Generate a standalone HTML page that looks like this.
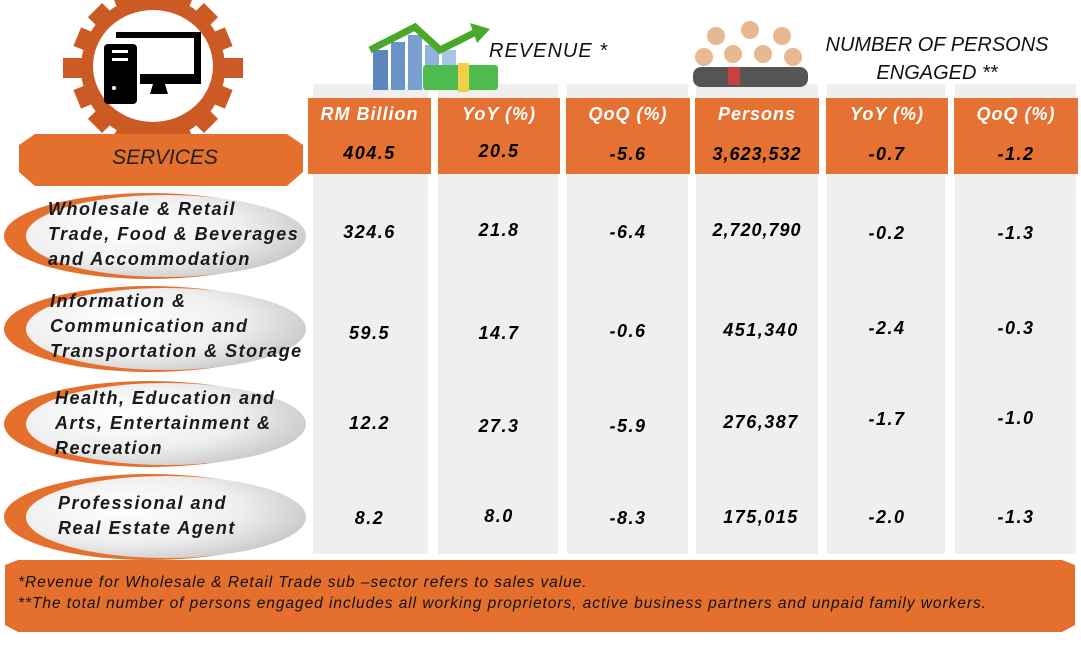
<!DOCTYPE html>
<html><head><style>
body{margin:0;width:1081px;height:661px;background:#fff;position:relative;overflow:hidden;font-family:"Liberation Sans",sans-serif;font-style:italic;font-weight:bold;}
.a{position:absolute}
.col{position:absolute;top:84px;height:470px;background:#efefef}
.hd{position:absolute;top:98px;height:76px;background:#e57233}
.h{position:absolute;top:104px;font-size:18px;color:#fff;text-align:center;letter-spacing:1px}
.t{position:absolute;font-size:18px;color:#000;text-align:center;letter-spacing:1.5px}
.lab{position:absolute;font-size:18px;color:#1a1a1a;line-height:25px;letter-spacing:1.5px}
</style></head><body>
<div class="col" style="left:313px;width:115px"></div>
<div class="col" style="left:438px;width:120px"></div>
<div class="col" style="left:567px;width:121px"></div>
<div class="col" style="left:696px;width:122px"></div>
<div class="col" style="left:827px;width:118px"></div>
<div class="col" style="left:955px;width:121px"></div>
<div class="hd" style="left:308px;width:123px"></div>
<div class="hd" style="left:438px;width:122px"></div>
<div class="hd" style="left:566px;width:124px"></div>
<div class="hd" style="left:695px;width:124px"></div>
<div class="hd" style="left:826px;width:122px"></div>
<div class="hd" style="left:954px;width:124px"></div>
<div class="h" style="left:308px;width:123px">RM Billion</div>
<div class="h" style="left:438px;width:122px">YoY (%)</div>
<div class="h" style="left:566px;width:124px">QoQ (%)</div>
<div class="h" style="left:695px;width:124px">Persons</div>
<div class="h" style="left:826px;width:122px">YoY (%)</div>
<div class="h" style="left:954px;width:124px">QoQ (%)</div>
<div class="t" style="top:143px;left:308px;width:123px">404.5</div>
<div class="t" style="top:141px;left:438px;width:122px">20.5</div>
<div class="t" style="top:144px;left:566px;width:124px">-5.6</div>
<div class="t" style="top:144px;left:695px;width:124px;letter-spacing:1px">3,623,532</div>
<div class="t" style="top:144px;left:826px;width:122px">-0.7</div>
<div class="t" style="top:144px;left:954px;width:124px">-1.2</div>

<svg class="a" style="left:0;top:0" width="310" height="570">
<defs><radialGradient id="g" cx="0.35" cy="0.4" r="0.7"><stop offset="0" stop-color="#fff"/><stop offset="0.6" stop-color="#eee"/><stop offset="1" stop-color="#c8c8c8"/></radialGradient></defs>
<g fill="#cc5a24">
<circle cx="153" cy="68" r="72"/>
<g transform="translate(153,68)">
<rect x="-10" y="-82" width="20" height="20"/><rect x="-10" y="62" width="20" height="20" />
<rect x="-90" y="-10" width="20" height="20"/><rect x="70" y="-10" width="20" height="20"/>
<rect x="-10" y="-82" width="20" height="20" transform="rotate(45)"/><rect x="-10" y="-82" width="20" height="20" transform="rotate(-45)"/>
<rect x="-10" y="-82" width="20" height="20" transform="rotate(135)"/><rect x="-10" y="-82" width="20" height="20" transform="rotate(-135)"/>
<rect x="-10" y="-82" width="20" height="20" transform="rotate(22.5)"/><rect x="-10" y="-82" width="20" height="20" transform="rotate(-22.5)"/>
<rect x="-10" y="-82" width="20" height="20" transform="rotate(67.5)"/><rect x="-10" y="-82" width="20" height="20" transform="rotate(-67.5)"/>
<rect x="-10" y="-82" width="20" height="20" transform="rotate(112.5)"/><rect x="-10" y="-82" width="20" height="20" transform="rotate(-112.5)"/>
<rect x="-10" y="-82" width="20" height="20" transform="rotate(157.5)"/><rect x="-10" y="-82" width="20" height="20" transform="rotate(-157.5)"/>
</g></g>
<ellipse cx="153" cy="66" rx="60" ry="56" fill="#fff"/>
<rect x="104" y="44" width="33" height="60" rx="4" fill="#000"/>
<rect x="112" y="50" width="16" height="3" fill="#fff"/><rect x="112" y="58" width="16" height="3" fill="#fff"/>
<circle cx="114" cy="88" r="2" fill="#fff"/>
<path d="M116 32 h85 v51 h-61 v-7 h54 v-38 h-78z" fill="#000"/>
<rect x="140" y="74" width="61" height="10" fill="#000"/>
<path d="M153 84 h12 l3 10 h-18z" fill="#000"/>
<path d="M19 145 L35 134 H287 L303 145 V172 L287 186 H35 L19 172Z" fill="#e5702e"/>
<g>
<ellipse cx="150" cy="236" rx="146" ry="43" fill="#e5702e"/><ellipse cx="166" cy="236" rx="140" ry="41" fill="url(#g)"/>
<ellipse cx="150" cy="329" rx="146" ry="43" fill="#e5702e"/><ellipse cx="166" cy="329" rx="140" ry="41" fill="url(#g)"/>
<ellipse cx="150" cy="424" rx="146" ry="43" fill="#e5702e"/><ellipse cx="166" cy="424" rx="140" ry="41" fill="url(#g)"/>
<ellipse cx="150" cy="517" rx="146" ry="43" fill="#e5702e"/><ellipse cx="166" cy="517" rx="140" ry="41" fill="url(#g)"/>
</g>
</svg>
<div class="a" style="left:4px;top:146px;width:322px;text-align:center;font-size:21px;font-weight:normal;color:#222">SERVICES</div>
<div class="lab" style="left:48px;top:197px">Wholesale &amp; Retail<br>Trade, Food &amp; Beverages<br>and Accommodation</div>
<div class="lab" style="left:50px;top:289px">Information &amp;<br>Communication and<br>Transportation &amp; Storage</div>
<div class="lab" style="left:55px;top:386px">Health, Education and<br>Arts, Entertainment &amp;<br>Recreation</div>
<div class="lab" style="left:58px;top:491px">Professional and<br>Real Estate Agent</div>

<div class="t" style="top:222px;left:308px;width:123px">324.6</div>
<div class="t" style="top:220px;left:438px;width:122px">21.8</div>
<div class="t" style="top:222px;left:566px;width:124px">-6.4</div>
<div class="t" style="top:220px;left:695px;width:124px;letter-spacing:1px">2,720,790</div>
<div class="t" style="top:223px;left:826px;width:122px">-0.2</div>
<div class="t" style="top:223px;left:954px;width:124px">-1.3</div>
<div class="t" style="top:323px;left:308px;width:123px">59.5</div>
<div class="t" style="top:323px;left:438px;width:122px">14.7</div>
<div class="t" style="top:321px;left:566px;width:124px">-0.6</div>
<div class="t" style="top:320px;left:695px;width:132px">451,340</div>
<div class="t" style="top:318px;left:826px;width:122px">-2.4</div>
<div class="t" style="top:318px;left:954px;width:124px">-0.3</div>
<div class="t" style="top:413px;left:308px;width:123px">12.2</div>
<div class="t" style="top:416px;left:438px;width:122px">27.3</div>
<div class="t" style="top:416px;left:566px;width:124px">-5.9</div>
<div class="t" style="top:412px;left:695px;width:132px">276,387</div>
<div class="t" style="top:409px;left:826px;width:122px">-1.7</div>
<div class="t" style="top:408px;left:954px;width:124px">-1.0</div>
<div class="t" style="top:508px;left:308px;width:123px">8.2</div>
<div class="t" style="top:506px;left:438px;width:122px">8.0</div>
<div class="t" style="top:508px;left:566px;width:124px">-8.3</div>
<div class="t" style="top:507px;left:695px;width:132px">175,015</div>
<div class="t" style="top:507px;left:826px;width:122px">-2.0</div>
<div class="t" style="top:507px;left:954px;width:124px">-1.3</div>

<svg class="a" style="left:0;top:555px" width="1081" height="85"><path d="M5 10 L18 5 H1062 L1075 10 V70 L1062 77 H18 L5 70Z" fill="#e5702e"/></svg>
<div class="a" style="left:18px;top:572px;font-size:15.5px;font-weight:normal;color:#111;line-height:21px;letter-spacing:0.95px;white-space:nowrap">*Revenue for Wholesale &amp; Retail Trade sub –sector refers to sales value.<br>**The total number of persons engaged includes all working proprietors, active business partners and unpaid family workers.</div>

<svg class="a" style="left:365px;top:15px" width="150" height="80">
<rect x="8" y="35" width="15" height="40" fill="#5d86bd"/><rect x="26" y="27" width="14" height="48" fill="#6a93c8"/><rect x="43" y="20" width="14" height="55" fill="#7aa0d0"/><rect x="60" y="30" width="14" height="45" fill="#90b4de"/><rect x="77" y="35" width="14" height="40" fill="#a7c5e6"/>
<path d="M5 35 L50 12 L75 35 L115 15" stroke="#4aa82a" stroke-width="7" fill="none"/><path d="M105 8 L125 14 L112 28z" fill="#4aa82a"/>
<rect x="58" y="50" width="75" height="25" rx="3" fill="#4dbb4d"/><rect x="93" y="48" width="11" height="29" fill="#f2d046"/>
</svg>
<div class="a" style="left:489px;top:40px;font-size:20px;font-weight:normal;color:#111;letter-spacing:1px">REVENUE *</div>
<svg class="a" style="left:688px;top:12px" width="125" height="75">
<g fill="#e8b890"><circle cx="28" cy="24" r="9"/><circle cx="62" cy="18" r="9"/><circle cx="94" cy="24" r="9"/><circle cx="16" cy="45" r="9"/><circle cx="45" cy="42" r="9"/><circle cx="75" cy="42" r="9"/><circle cx="105" cy="45" r="9"/></g>
<g fill="#555"><rect x="5" y="55" width="115" height="20" rx="8"/></g>
<g fill="#c94040"><rect x="40" y="55" width="12" height="18"/></g>
</svg>
<div class="a" style="left:812px;top:31px;width:250px;text-align:center;font-size:20px;font-weight:normal;color:#111;line-height:28px">NUMBER OF PERSONS<br>ENGAGED **</div>
</body></html>
